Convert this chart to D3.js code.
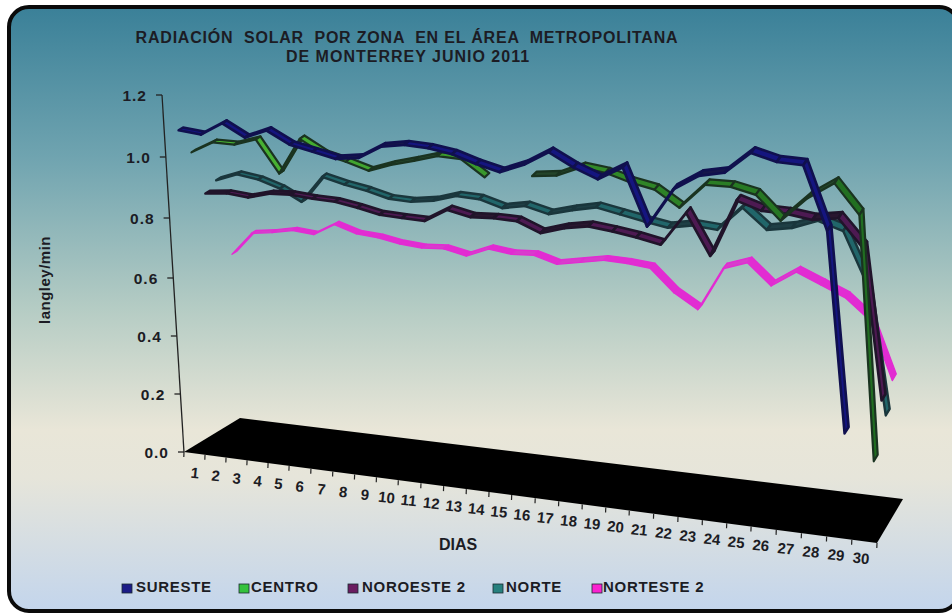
<!DOCTYPE html>
<html>
<head>
<meta charset="utf-8">
<script src="https://cdn.jsdelivr.net/npm/d3@7"></script>
<style>
  html, body { margin: 0; padding: 0; background: #fff; overflow: hidden; }
  text { font-family: "Liberation Sans", Arial, sans-serif; font-weight: bold; fill: #1c1c24; }
</style>
</head>
<body>
<div id="chart"></div>
<script>
var days = d3.range(1, 31);
var valueTicks = [0, 0.2, 0.4, 0.6, 0.8, 1.0, 1.2];
var seriesNames = ["SURESTE", "CENTRO", "NOROESTE 2", "NORTE", "NORTESTE 2"];

var sureste = [1.08, 1.067, 1.103, 1.059, 1.082, 1.039, 1.019, 0.998, 1.003, 1.038, 1.045, 1.037, 1.021, 0.994, 0.972,
  0.996, 1.034, 0.993, 0.961, 0.997, 0.833, 0.94, 0.981, 0.992, 1.048, 1.026, 1.02, 0.846, 0.291, null];
var centro = [0.987, 1.02, 1.014, 1.031, 0.925, 1.035, 0.99, 0.967, 0.941, 0.961, 0.975, 0.991, 0.984, 0.932, null,
  0.94, 0.944, 0.97, 0.957, 0.932, 0.914, 0.866, 0.933, 0.93, 0.911, 0.843, 0.908, 0.951, 0.869, 0.196];
var noroeste = [0.83, 0.833, 0.822, 0.836, 0.835, 0.825, 0.818, 0.802, 0.783, 0.776, 0.77, 0.807, 0.788, 0.788, 0.782,
  0.75, 0.768, 0.777, 0.766, 0.752, 0.735, 0.829, 0.711, 0.869, 0.844, 0.839, 0.826, 0.834, 0.757, 0.341];
var norte = [0.851, 0.872, 0.857, 0.83, 0.79, 0.871, 0.849, 0.832, 0.81, 0.803, 0.809, 0.826, 0.819, 0.795, 0.804,
  0.783, 0.798, 0.809, 0.792, 0.775, 0.76, 0.77, 0.761, 0.826, 0.768, 0.777, 0.8, 0.776, 0.638, 0.275];
var norteste = [0.583, 0.656, 0.662, 0.672, 0.662, 0.697, 0.671, 0.662, 0.646, 0.637, 0.638, 0.62, 0.645, 0.633, 0.634,
  0.611, 0.621, 0.631, 0.626, 0.616, 0.549, 0.504, 0.628, 0.649, 0.588, 0.631, 0.6, 0.568, 0.51, 0.348];

var seriesValues = [sureste, centro, noroeste, norte, norteste];
var seriesDepth = [0.1, 0.3, 0.5, 0.7, 0.9];
var topStart = ["#15157f", "#4cb834", "#4d1a52", "#21666a", "#e22cd2"];
var topEnd = ["#15157f", "#1f6a20", "#4d1a52", "#21666a", "#e22cd2"];
var underColor = ["#16164a", "#24452a", "#291730", "#1f3f45", "#d83ccc"];
var edgeColor = ["#10104e", "#1a3320", "#20142a", "#1a363c", "#e22cd2"];
var edgeWidth = [2.6, 2.2, 2.6, 2.4, 1.4];
var swatchColor = ["#1b1b86", "#35c23c", "#6a1c60", "#26807e", "#fa22d0"];

var width = 952, height = 613;

var svg = d3.select("#chart").append("svg")
    .attr("width", width)
    .attr("height", height);

var grad = svg.append("defs").append("linearGradient")
    .attr("id", "bg").attr("x1", 0).attr("y1", 0).attr("x2", 0).attr("y2", 1);
[[0, "#3a8098"], [0.25, "#70a4b0"], [0.5, "#b5ccc4"], [0.7, "#e9e6d8"], [0.78, "#e6e5da"], [1, "#c3d5ec"]].forEach(function(s) {
  grad.append("stop").attr("offset", s[0]).attr("stop-color", s[1]);
});

svg.append("rect")
    .attr("x", 9).attr("y", 7)
    .attr("width", 950).attr("height", 604)
    .attr("rx", 20).attr("ry", 20)
    .attr("fill", "url(#bg)")
    .attr("stroke", "#0a0a0a")
    .attr("stroke-width", 4);

// the chart is a tilted 3D box: day along the front edge, series in depth, value upward
var frontX = d3.scaleLinear().domain([0, 5, 10, 15, 20, 25, 30]).range([184, 289.1, 398.3, 511.7, 629.3, 751.1, 877]);
var frontY = d3.scaleLinear().domain([184, 877]).range([452, 543.1]);
var depthX = d3.scaleLinear().domain([0, 30]).range([56, 26]);
var depthY = d3.scaleLinear().domain([0, 30]).range([34, 44]);
var lean = d3.scaleLinear().domain([0, 30]).range([0.0616, -0.05]);
var grow = d3.scaleLinear().domain([0, 30]).range([1, 1.24]);
var rise = d3.scaleLinear().domain(valueTicks).range([0, 58, 116, 174, 234, 295, 357]);
var ribbon = d3.scaleLinear().domain([0, 30]).range([0.08, 0.15]);

function project(u, f, v) {
  var h = rise(v) * grow(u);
  var x = frontX(u);
  return [x + f * depthX(u) - lean(u) * h, frontY(x) - f * depthY(u) - h];
}

svg.append("polygon")
    .attr("points", [project(0, 0, 0), project(30, 0, 0), project(30, 1, 0), project(0, 1, 0)].join(" "))
    .attr("fill", "#000");

// value axis
var p0 = project(0, 0, 0), p1 = project(0, 0, 1.2);
svg.append("line")
    .attr("x1", p0[0]).attr("y1", p0[1]).attr("x2", p1[0]).attr("y2", p1[1])
    .attr("stroke", "#222").attr("stroke-width", 1.3);

var vTick = svg.selectAll(".vtick").data(valueTicks).enter().append("g")
    .attr("class", "vtick")
    .attr("transform", function(d) { return "translate(" + project(0, 0, d) + ")"; });
vTick.append("line").attr("x1", -6).attr("x2", 0).attr("stroke", "#222").attr("stroke-width", 1.3);
vTick.append("text")
    .attr("x", -15).attr("dy", 5.5)
    .attr("text-anchor", "end")
    .style("font-size", "15.5px")
    .style("letter-spacing", "1px")
    .text(function(d) { return d.toFixed(1); });

// day axis
svg.selectAll(".dtick").data(d3.range(0, 31)).enter().append("line")
    .attr("class", "dtick")
    .attr("x1", function(d) { return project(d, 0, 0)[0]; })
    .attr("y1", function(d) { return project(d, 0, 0)[1]; })
    .attr("x2", function(d) { return project(d, 0, 0)[0] - 0.2; })
    .attr("y2", function(d) { return project(d, 0, 0)[1] + 5; })
    .attr("stroke", "#222").attr("stroke-width", 1.2);

svg.selectAll(".dlabel").data(days).enter().append("text")
    .attr("class", "dlabel")
    .attr("text-anchor", "middle")
    .attr("transform", function(d) {
      var p = project(d - 0.5, 0, 0);
      return "translate(" + (p[0] - d * 0.13) + "," + (p[1] + 25 - d * 0.1) + ") rotate(6)";
    })
    .style("font-size", "15px")
    .text(function(d) { return d; });

// ribbons, deepest series first
d3.range(seriesValues.length).reverse().forEach(function(s) {
  var values = seriesValues[s];
  var f = seriesDepth[s];
  var shade = d3.interpolateRgb(topStart[s], topEnd[s]);
  var segs = d3.range(values.length - 1).filter(function(i) {
    return values[i] !== null && values[i + 1] !== null;
  });
  svg.append("g").selectAll("polygon").data(segs).enter().append("polygon")
      .attr("points", function(i) {
        var wa = ribbon(i + 0.5) / 2, wb = ribbon(i + 1.5) / 2;
        return [project(i + 0.5, f - wa, values[i]),
                project(i + 1.5, f - wb, values[i + 1]),
                project(i + 1.5, f + wb, values[i + 1]),
                project(i + 0.5, f + wa, values[i])].join(" ");
      })
      .attr("fill", function(i) {
        var a = project(i + 0.5, f, values[i]), b = project(i + 1.5, f, values[i + 1]);
        return (b[1] - a[1]) / (b[0] - a[0]) > 0.05 ? shade(i / 29) : underColor[s];
      })
      .attr("stroke", edgeColor[s])
      .attr("stroke-width", edgeWidth[s])
      .attr("stroke-linejoin", "round");
});

// titles
svg.append("text").attr("x", 407).attr("y", 43).attr("text-anchor", "middle")
    .attr("xml:space", "preserve").style("font-size", "16px").style("white-space", "pre")
    .style("letter-spacing", "0.8px")
    .text("RADIACIÓN  SOLAR  POR ZONA  EN EL ÁREA  METROPOLITANA");
svg.append("text").attr("x", 408).attr("y", 62).attr("text-anchor", "middle")
    .style("font-size", "16px")
    .style("letter-spacing", "1px")
    .text("DE MONTERREY JUNIO 2011");
svg.append("text").attr("x", 458).attr("y", 550).attr("text-anchor", "middle")
    .style("font-size", "16px")
    .text("DIAS");
svg.append("text")
    .attr("transform", "translate(50,280) rotate(-90)")
    .attr("text-anchor", "middle")
    .style("font-size", "15px")
    .style("letter-spacing", "0.5px")
    .text("langley/min");

// legend
var legendX = [122, 239, 348, 493, 592];
var legendGap = [14, 12, 14, 13, 11];
var legend = svg.selectAll(".legend").data(seriesNames).enter().append("g")
    .attr("class", "legend")
    .attr("transform", function(d, i) { return "translate(" + legendX[i] + ",582)"; });
legend.append("rect")
    .attr("y", 2)
    .attr("width", 10).attr("height", 9)
    .attr("fill", function(d, i) { return swatchColor[i]; })
    .attr("stroke", "#1a2a30").attr("stroke-width", 0.8);
legend.append("text")
    .attr("x", function(d, i) { return legendGap[i]; }).attr("y", 10)
    .style("font-size", "15px")
    .style("letter-spacing", "0.7px")
    .text(function(d) { return d; });
</script>
</body>
</html>
